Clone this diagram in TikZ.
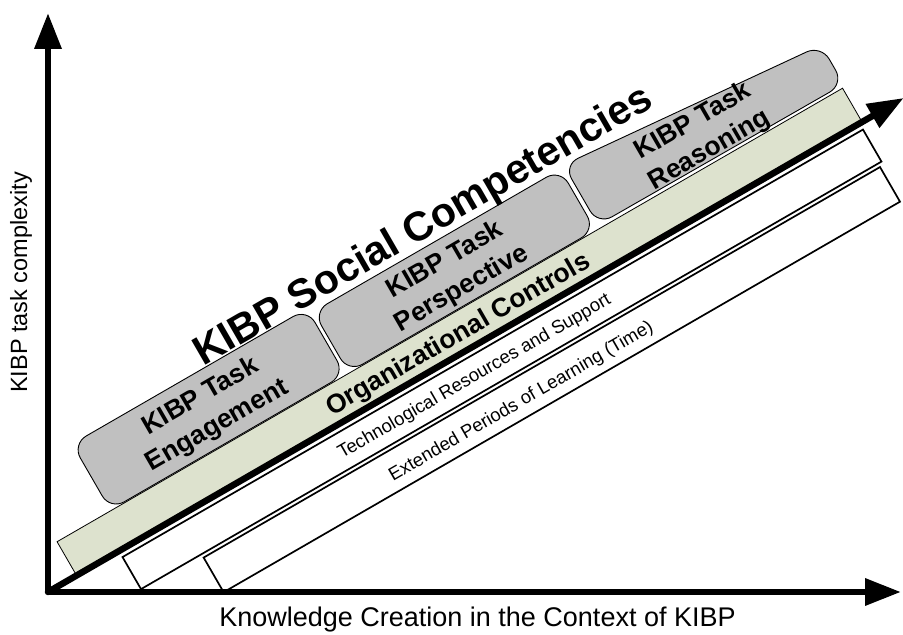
\documentclass[tikz,border=0pt]{standalone}
\usepackage{fontspec}
\setmainfont{Liberation Sans}
\usetikzlibrary{arrows.meta}
\definecolor{bandgreen}{RGB}{221,226,206}
\definecolor{boxgray}{RGB}{192,192,192}
\begin{document}
\begin{tikzpicture}[x=1pt,y=1pt,
  axisline/.style={line width=6.5pt, -{Triangle[length=36pt,width=26pt]}},
  graybox/.style={draw=black, line width=0.9pt, fill=boxgray, rounded corners=16pt},
  whitebox/.style={draw=black, line width=1.7pt, fill=white},
  greenband/.style={draw=black, line width=0.8pt, fill=bandgreen},
  boxlabel/.style={font=\fontsize{26.5}{33}\selectfont\bfseries, align=center, transform shape, inner sep=0pt},
  bandlabel/.style={font=\fontsize{18.5}{22}\selectfont, transform shape, inner sep=0pt},
  titlelabel/.style={font=\fontsize{41}{48}\selectfont\bfseries, transform shape, inner sep=0pt},
  axislabel/.style={inner sep=0pt}
]
\useasboundingbox (0,0) rectangle (903,635);
\coordinate (O) at (48,43);
\coordinate (Ytip) at (48,622);
\coordinate (Xtip) at (901,43);
\begin{scope}[shift={(48,43)}, rotate=30]
  % green band
  \draw[greenband] (33,2) rectangle (940,39);
  % white boxes
  \draw[whitebox] (82,-7) rectangle (937,-44);
  \draw[whitebox] (152,-48) rectangle (933,-88);
  % diagonal arrow
  \coordinate (D0) at (0,0);
  \coordinate (Dtip) at (988,0);
  \draw[axisline] (D0) -- (Dtip);
  % gray rounded boxes
  \draw[graybox] (95,40) -- (95,116) -- (366,116) -- (366,40) -- cycle;
  \draw[graybox] (370,40) -- (370,110) -- (655,110) -- (655,40) -- cycle;
  \draw[graybox] (660,43) -- (660,112) -- (943,87) -- (943,42) -- cycle;
  % labels
  \node[titlelabel] (title) at (508,128) {KIBP Social Competencies};
  \node[boxlabel] (eng) at (230,76) {KIBP Task\\Engagement};
  \node[boxlabel] (per) at (510,72) {KIBP Task\\Perspective};
  \node[boxlabel] (rea) at (794,68) {KIBP Task\\Reasoning};
  \node[boxlabel] (org) at (484,17) {Organizational Controls};
  \node[bandlabel] (tech) at (477,-27) {Technological Resources and Support};
  \node[bandlabel] (ext) at (505,-72) {Extended Periods of Learning (Time)};
\end{scope}
\draw[axisline] (O) -- (Ytip);
\draw[axisline] (O) -- (Xtip);
\fill (O) circle (3.25pt);
\node[axislabel, rotate=90, anchor=base, font=\fontsize{23.5}{28}\selectfont] (ylab) at (27,352.5) {KIBP task complexity};
\node[axislabel, anchor=base, font=\fontsize{27}{32}\selectfont] (xlab) at (477.5,9) {Knowledge Creation in the Context of KIBP};
\end{tikzpicture}
\end{document}
